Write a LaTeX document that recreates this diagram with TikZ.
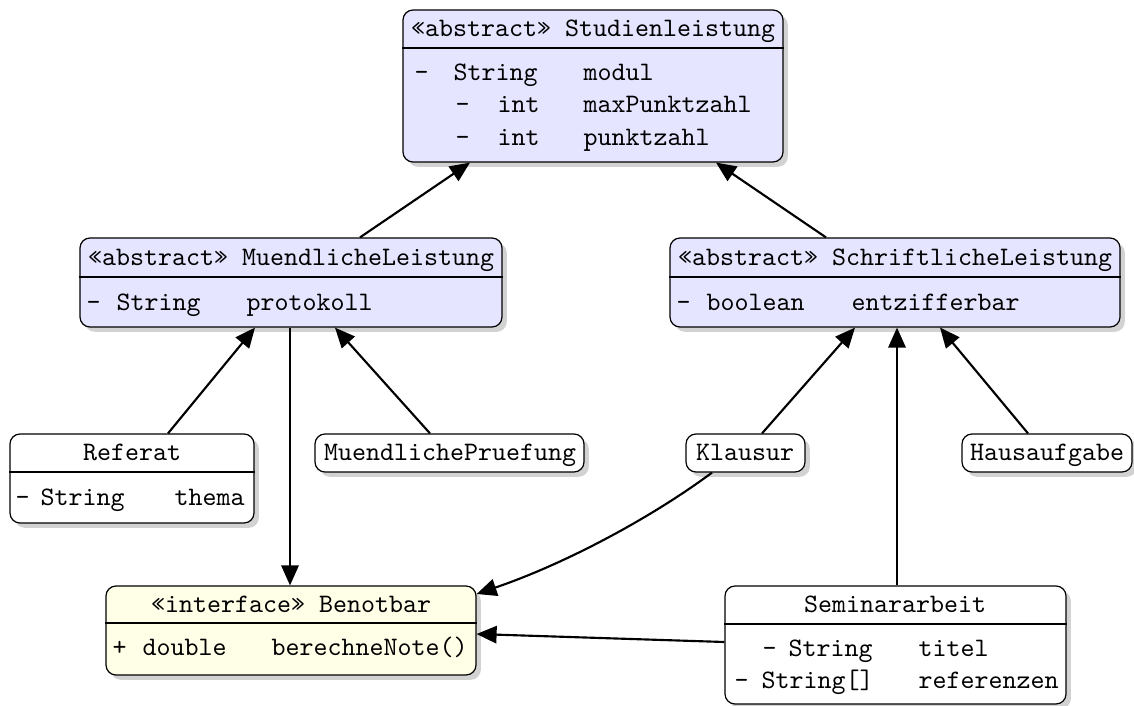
\documentclass[tikz,border=0pt]{standalone}
\usetikzlibrary{arrows.meta,shadows,fit}
\begin{document}
\begin{tikzpicture}[x=0.375pt,y=-0.375pt,
  box/.style={draw, rounded corners=3.75pt, inner sep=0pt, line width=0.45pt,
    drop shadow={shadow xshift=1.8pt, shadow yshift=-1.8pt, fill=black!35}},
  absbox/.style={box, fill=blue!10},
  plainbox/.style={box, fill=white},
  ifcbox/.style={box, fill=yellow!10},
  tl/.style={font=\ttfamily, inner sep=0pt, anchor=base west},
  tc/.style={font=\ttfamily, inner sep=0pt, anchor=base},
  arr/.style={line width=0.8pt, -{Triangle[length=7.5pt,width=6.5pt]}},
  sep/.style={line width=0.4pt}]
\useasboundingbox (0,0) rectangle (1134,706);

% boxes
\node[absbox, fit={(403,10) (783,162)}] (stud) {};
\node[absbox, fit={(80,238) (502,327)}] (ml) {};
\node[absbox, fit={(670,238) (1120,327)}] (sl) {};
\node[plainbox, fit={(10,434) (254,523)}] (ref) {};
\node[plainbox, fit={(315,434) (584,472)}] (mp) {};
\node[plainbox, fit={(686,434) (805,472)}] (kl) {};
\node[plainbox, fit={(962,434) (1132,472)}] (ha) {};
\node[ifcbox, fit={(106,586) (476,675)}] (bn) {};
\node[plainbox, fit={(725,586) (1066,704)}] (sa) {};

% dividers
\draw[sep] (stud.west |- 0,48) -- (stud.east |- 0,48);
\draw[sep] (ml.west |- 0,277) -- (ml.east |- 0,277);
\draw[sep] (sl.west |- 0,277) -- (sl.east |- 0,277);
\draw[sep] (ref.west |- 0,472) -- (ref.east |- 0,472);
\draw[sep] (bn.west |- 0,623) -- (bn.east |- 0,623);
\draw[sep] (sa.west |- 0,624) -- (sa.east |- 0,624);

% Studienleistung
\node[tc] (studh) at (593,37) {«abstract» Studienleistung};
\node[tl] (s1a) at (414,81) {-};
\node[tl] (s1b) at (453,81) {String};
\node[tl] (s1c) at (583,81) {modul};
\node[tl] (s2a) at (455,113) {-};
\node[tl] (s2b) at (497,113) {int};
\node[tl] (s2c) at (583,113) {maxPunktzahl};
\node[tl] (s3a) at (455,145) {-};
\node[tl] (s3b) at (497,145) {int};
\node[tl] (s3c) at (583,145) {punktzahl};

% MuendlicheLeistung
\node[tc] (mlh) at (291,265) {«abstract» MuendlicheLeistung};
\node[tl] (ml1a) at (86,310) {-};
\node[tl] (ml1b) at (116,310) {String};
\node[tl] (ml1c) at (246,310) {protokoll};

% SchriftlicheLeistung
\node[tc] (slh) at (895,265) {«abstract» SchriftlicheLeistung};
\node[tl] (sl1a) at (676,310) {-};
\node[tl] (sl1b) at (706,310) {boolean};
\node[tl] (sl1c) at (851,310) {entzifferbar};

% Referat
\node[tc] (refh) at (132,460) {Referat};
\node[tl] (r1a) at (15,505) {-};
\node[tl] (r1b) at (40,505) {String};
\node[tl] (r1c) at (174,505) {thema};

% small boxes
\node[tc] (mph) at (450,460) {MuendlichePruefung};
\node[tc] (klh) at (745,460) {Klausur};
\node[tc] (hah) at (1047,460) {Hausaufgabe};

% Benotbar
\node[tc] (bnh) at (291,612) {«interface» Benotbar};
\node[tl] (b1a) at (112,655) {+};
\node[tl] (b1b) at (142,655) {double};
\node[tl] (b1c) at (271,655) {berechneNote()};

% Seminararbeit
\node[tc] (sah) at (895,612) {Seminararbeit};
\node[tl] (sa1a) at (762,656) {-};
\node[tl] (sa1b) at (788,656) {String};
\node[tl] (sa1c) at (918,656) {titel};
\node[tl] (sa2a) at (734,688) {-};
\node[tl] (sa2b) at (761,688) {String[]};
\node[tl] (sa2c) at (918,688) {referenzen};

% connectors
\draw[arr] (ml.north -| 360,0) -- (stud.south -| 470,0);
\draw[arr] (sl.north -| 826,0) -- (stud.south -| 716,0);
\draw[arr] (ref.north -| 168,0) -- (ml.south -| 255,0);
\draw[arr] (mp.north -| 430,0) -- (ml.south -| 335,0);
\draw[arr] (ml.south -| 290,0) -- (bn.north -| 290,0);
\draw[arr] (kl.north -| 762,0) -- (sl.south -| 855,0);
\draw[arr] (sa.north -| 897,0) -- (sl.south -| 897,0);
\draw[arr] (ha.north -| 1028,0) -- (sl.south -| 940,0);
\draw[arr] (kl.south -| 712,0) .. controls (655,515) and (570,562) .. (bn.east |- 0,594);
\draw[arr] (sa.west |- 0,642) -- (bn.east |- 0,634);
\end{tikzpicture}
\end{document}
